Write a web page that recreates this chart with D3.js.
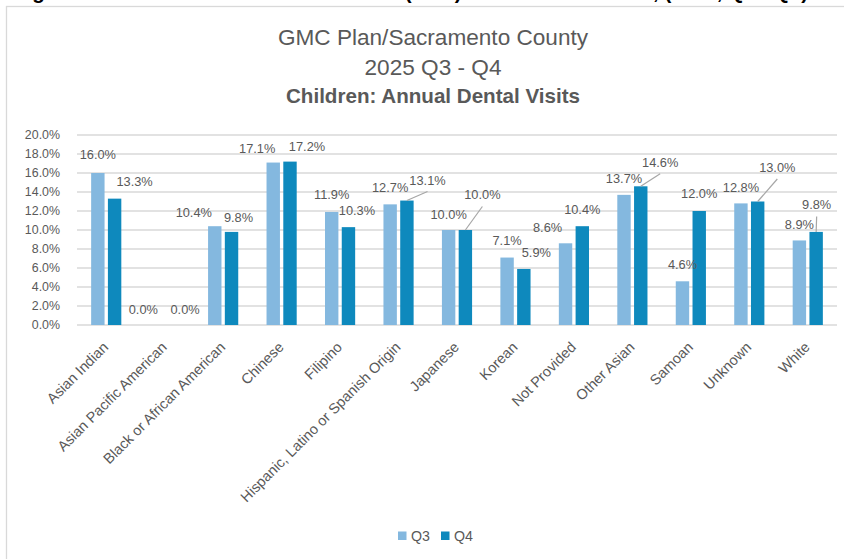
<!DOCTYPE html>
<html>
<head>
<meta charset="utf-8">
<script src="https://cdn.jsdelivr.net/npm/d3@7"></script>
<style>
  html, body { margin: 0; padding: 0; background: #ffffff; }
  svg { display: block; font-family: "Liberation Sans", Arial, sans-serif; }
</style>
</head>
<body>
<svg id="chart" width="844" height="559"></svg>
<script>
// Race / ethnicity groups on the x axis
const categories = [
  "Asian Indian", "Asian Pacific American", "Black or African American", "Chinese",
  "Filipino", "Hispanic, Latino or Spanish Origin", "Japanese", "Korean",
  "Not Provided", "Other Asian", "Samoan", "Unknown", "White"
];
// Annual dental visit rates (%)
const seriesNames = ["Q3", "Q4"];
const q3Values = [16.0, 0.0, 10.4, 17.1, 11.9, 12.7, 10.0, 7.1, 8.6, 13.7, 4.6, 12.8, 8.9];
const q4Values = [13.3, 0.0, 9.8, 17.2, 10.3, 13.1, 10.0, 5.9, 10.4, 14.6, 12.0, 13.0, 9.8];
const yTicks = [0, 2, 4, 6, 8, 10, 12, 14, 16, 18, 20];

// Hand-placed data label nudges: [dx from bar centre, height of label centre above bar top, leader line?]
const q3LabelNudge = [
  [0, 18, false], [-13, 15, false], [-21, 13.5, false], [-16, 14, false],
  [0, 17, false], [0, 16.7, false], [0, 15.7, false], [0, 17, false],
  [-18, 16, false], [0, 16.5, false], [0, 16.3, false], [0, 15.7, false], [0, 15.5, false]
];
const q4LabelNudge = [
  [20, 17, false], [12, 15, false], [7, 14, false], [17, 14.6, false],
  [8.5, 16.5, false], [20.6, 20.5, true], [17, 35, true], [12.5, 16, false],
  [0, 17, false], [19.4, 24, true], [0, 17, false], [19.6, 34, true], [0.5, 27, true]
];

const colors = { Q3: "#84b8df", Q4: "#0e89bd" };
const textGray = "#595959";
const gridGray = "#d9d9d9";

const svg = d3.select("#chart");
const W = 844, H = 559;
const plot = { left: 77, right: 837, top: 135, bottom: 325 };

svg.append("rect").attr("width", W).attr("height", H).attr("fill", "#fff");

// Figure caption above the chart frame (runs off the top edge of the page)
svg.append("text")
  .attr("x", 14).attr("y", -0.6)
  .attr("font-size", 20.5).attr("font-weight", "bold").attr("fill", "#000")
  .text("Figure 2: Children: Annual Dental Visits (ADV) Rates: Sacramento, (2025, Q3 - Q4)");

// Chart frame
svg.append("rect")
  .attr("x", 6.5).attr("y", 6.5).attr("width", 900).attr("height", 600)
  .attr("fill", "#fff").attr("stroke", gridGray).attr("stroke-width", 1.3);

// Titles
const titles = [
  { text: "GMC Plan/Sacramento County", y: 45, size: 22.6, weight: "normal" },
  { text: "2025 Q3 - Q4", y: 75, size: 22.6, weight: "normal" },
  { text: "Children: Annual Dental Visits", y: 103.3, size: 20.6, weight: "bold" }
];
svg.selectAll("text.title").data(titles).join("text")
  .attr("class", "title")
  .attr("x", 433).attr("y", d => d.y)
  .attr("text-anchor", "middle")
  .attr("font-size", d => d.size).attr("font-weight", d => d.weight)
  .attr("fill", textGray)
  .text(d => d.text);

// Scales
const x0 = d3.scaleBand().domain(categories).range([plot.left, plot.right]).padding(0);
const groupWidth = x0.bandwidth() * 0.516;
const x1 = d3.scaleBand().domain(seriesNames).range([0, groupWidth]).paddingInner(0.2);
const y = d3.scaleLinear().domain([0, 20]).range([plot.bottom, plot.top]);

// Gridlines
svg.append("g").selectAll("line").data(yTicks).join("line")
  .attr("x1", plot.left).attr("x2", plot.right)
  .attr("y1", d => y(d)).attr("y2", d => y(d))
  .attr("stroke", gridGray).attr("stroke-width", 1.3);

// Y axis labels
const yAxis = d3.axisLeft(y).tickValues(yTicks).tickSize(0).tickPadding(0)
  .tickFormat(d => d3.format(".1f")(d) + "%");
const yg = svg.append("g").attr("transform", `translate(60,0)`).call(yAxis);
yg.select(".domain").remove();
yg.selectAll("text").attr("font-size", 12.4).attr("fill", textGray)
  .attr("font-family", "Liberation Sans, Arial, sans-serif");

// Bars
const rows = categories.map((c, i) => ({ cat: c, i, vals: [
  { key: "Q3", v: q3Values[i], nudge: q3LabelNudge[i] },
  { key: "Q4", v: q4Values[i], nudge: q4LabelNudge[i] }
]}));
const groupOffset = (x0.bandwidth() - groupWidth) / 2;

const groups = svg.append("g").selectAll("g").data(rows).join("g")
  .attr("transform", d => `translate(${x0(d.cat) + groupOffset},0)`);

groups.selectAll("rect").data(d => d.vals).join("rect")
  .attr("x", d => x1(d.key))
  .attr("width", x1.bandwidth())
  .attr("y", d => y(d.v))
  .attr("height", d => y(0) - y(d.v))
  .attr("fill", d => colors[d.key]);

// Data labels with leader lines where they were moved away
const labels = svg.append("g");
rows.forEach(r => {
  r.vals.forEach(d => {
    const bx = x0(r.cat) + groupOffset + x1(d.key) + x1.bandwidth() / 2;
    const top = y(d.v);
    const lx = bx + d.nudge[0];
    const ly = top - d.nudge[1];
    if (d.nudge[2]) {
      labels.append("line")
        .attr("x1", bx).attr("y1", top)
        .attr("x2", lx).attr("y2", ly + 11.5)
        .attr("stroke", "#a6a6a6").attr("stroke-width", 1.2);
    }
    labels.append("text")
      .attr("x", lx).attr("y", ly)
      .attr("dy", "0.35em")
      .attr("text-anchor", "middle")
      .attr("font-size", 12.8).attr("fill", textGray)
      .text(d3.format(".1f")(d.v) + "%");
  });
});

// X axis category labels, rotated
svg.append("g").selectAll("text").data(categories).join("text")
  .attr("transform", d => `translate(${x0(d) + x0.bandwidth() / 2 + 3},348) rotate(-45)`)
  .attr("text-anchor", "end")
  .attr("font-size", 14.5).attr("fill", textGray)
  .text(d => d);

// Legend
const legendItems = [
  { key: "Q3", sx: 398, tx: 411 },
  { key: "Q4", sx: 441, tx: 454 }
];
const lg = svg.append("g");
lg.selectAll("rect").data(legendItems).join("rect")
  .attr("x", d => d.sx).attr("y", 531.5).attr("width", 8.5).attr("height", 8.5)
  .attr("fill", d => colors[d.key]);
lg.selectAll("text").data(legendItems).join("text")
  .attr("x", d => d.tx).attr("y", 541)
  .attr("font-size", 14.2).attr("fill", textGray)
  .text(d => d.key);
</script>
</body>
</html>
